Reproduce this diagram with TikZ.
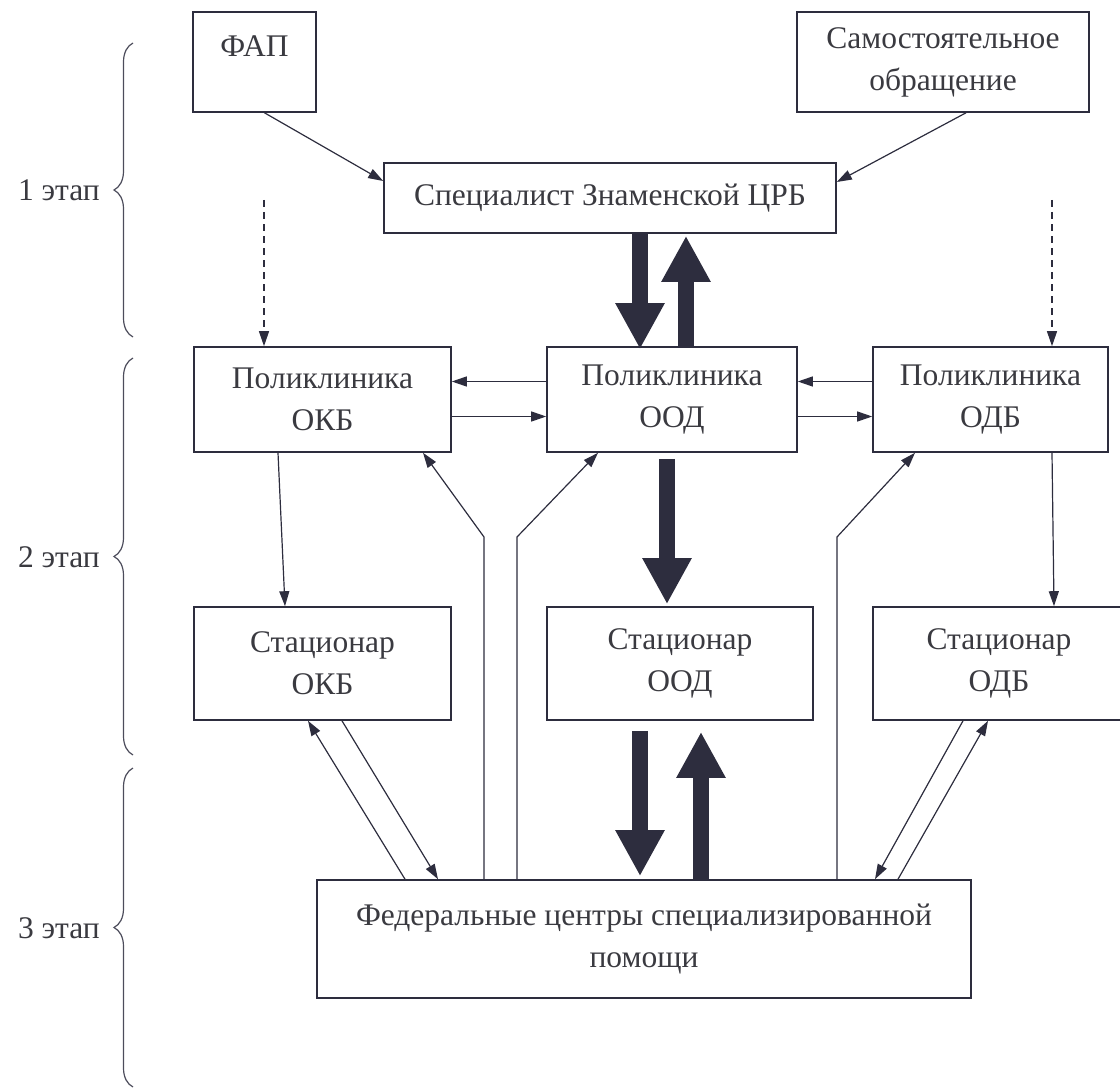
\documentclass[tikz,border=0pt]{standalone}
\usepackage{fontspec}
\setmainfont{Liberation Serif}
\usepackage{tikz}
\usetikzlibrary{%
  positioning
 ,arrows.meta
 ,calc
 ,decorations.pathreplacing
}
\definecolor{ink}{RGB}{45,45,62}
\definecolor{txt}{RGB}{58,58,64}
\tikzstyle{sch}=[x=1pt,y=-1pt,on grid]
\tikzstyle{blk}=[draw=ink,line width=1.6pt,inner sep=0pt,align=center,text=txt,font=\fontsize{31.5}{42}\selectfont]
\tikzstyle{ln}=[color=ink,line width=1.2pt,-{Triangle[length=15pt,width=10pt]}]
\tikzstyle{dsh}=[ln,dash pattern=on 7pt off 5pt]
\tikzstyle{fat}=[color=ink,line width=16pt,-{Triangle[length=46pt,width=46pt]}]
\tikzstyle{brc}=[draw=ink!85,line width=1.2pt,decorate,decoration={brace,amplitude=19pt}]
\tikzstyle{stg}=[anchor=east,inner sep=0pt,text=txt,font=\fontsize{31.5}{42}\selectfont]

\begin{document}
\begin{tikzpicture}[sch]
  \useasboundingbox (0,0) rectangle (1120,1089);
  % stage 1
  \node[blk,minimum width=123pt,minimum height=100pt,text height=45pt,text depth=55pt] (fap) at (254.5,62) {ФАП};
  \node[blk,minimum width=292pt,minimum height=100pt] (self) at (943,62) {Самостоятельное\\обращение};
  \node[blk,minimum width=452pt,minimum height=70pt] (spec) at (610,198) {Специалист Знаменской ЦРБ};
  % stage 2
  \node[blk,minimum width=257pt,minimum height=105pt] (polokb) at (322.5,399.5) {Поликлиника\\ОКБ};
  \node[blk,minimum width=250pt,minimum height=105pt] (polood) [right=349.5pt of polokb] {Поликлиника\\ООД};
  \node[blk,minimum width=235pt,minimum height=105pt] (polodb) [right=318.5pt of polood] {Поликлиника\\ОДБ};
  \node[blk,minimum width=257pt,minimum height=113pt] (stacokb) [below=264pt of polokb] {Стационар\\ОКБ};
  \node[blk,minimum width=266pt,minimum height=113pt] (stacood) [below=264pt of polood,xshift=8pt] {Стационар\\ООД};
  \node[blk,minimum width=252pt,minimum height=113pt] (stacodb) [below=264pt of polodb,xshift=8.5pt] {Стационар\\ОДБ};
  % stage 3
  \node[blk,minimum width=654pt,minimum height=118pt] (fed) at (644,939) {Федеральные центры специализированной\\помощи};

  \node[stg] (st1) at (100,190) {1 этап};
  \node[stg] (st2) at (100,557) {2 этап};
  \node[stg] (st3) at (100,928) {3 этап};
  \draw[brc] (133,337) -- (133,43);
  \draw[brc] (133,755) -- (133,358);
  \draw[brc] (133,1087) -- (133,768);

  \coordinate (dl) at (264,200);
  \coordinate (dr) at (1052,200);
  \coordinate (b1) at (484,537);
  \coordinate (b2) at (517,537);
  \coordinate (b3) at (837,537);

  \path[ln]
    ([xshift=10pt]fap.south) edge ([yshift=17pt]spec.west)
    ([xshift=23pt]self.south) edge ([yshift=16pt]spec.east)
    ([yshift=18pt]polood.west) edge ([yshift=18pt]polokb.east)
    ([yshift=-17pt]polokb.east) edge ([yshift=-17pt]polood.west)
    ([yshift=18pt]polodb.west) edge ([yshift=18pt]polood.east)
    ([yshift=-17pt]polood.east) edge ([yshift=-17pt]polodb.west)
    ([xshift=-44.5pt]polokb.south) edge ([xshift=-37.5pt]stacokb.north)
    ([xshift=61.5pt]polodb.south) edge ([xshift=55pt]stacodb.north)
    ([xshift=-239pt]fed.north) edge ([xshift=-14.5pt]stacokb.south)
    ([xshift=19.5pt]stacokb.south) edge ([xshift=-206pt]fed.north)
    ([xshift=-36pt]stacodb.south) edge ([xshift=231pt]fed.north)
    ([xshift=254pt]fed.north) edge ([xshift=-11pt]stacodb.south);
  \draw[dsh] (dl) -- (dl |- polokb.north);
  \draw[dsh] (dr) -- (dr |- polodb.north);
  \draw[ln] (b1 |- fed.north) -- (b1) -- ([xshift=100.5pt]polokb.south);
  \draw[ln] (b2 |- fed.north) -- (b2) -- ([xshift=-74pt]polood.south);
  \draw[ln] (b3 |- fed.north) -- (b3) -- ([xshift=-75.5pt]polodb.south);

  \path[fat]
    ([xshift=30pt]spec.south) edge ([xshift=-32pt,yshift=-3pt]polood.north)
    ([xshift=14pt]polood.north) edge ([xshift=76pt,yshift=-2pt]spec.south)
    ([xshift=-5pt,yshift=-6pt]polood.south) edge ([xshift=-13pt,yshift=2pt]stacood.north)
    ([xshift=-40pt,yshift=-10pt]stacood.south) edge ([xshift=-4pt,yshift=3pt]fed.north)
    ([xshift=57pt]fed.north) edge ([xshift=21pt,yshift=-11pt]stacood.south);
\end{tikzpicture}
\end{document}
